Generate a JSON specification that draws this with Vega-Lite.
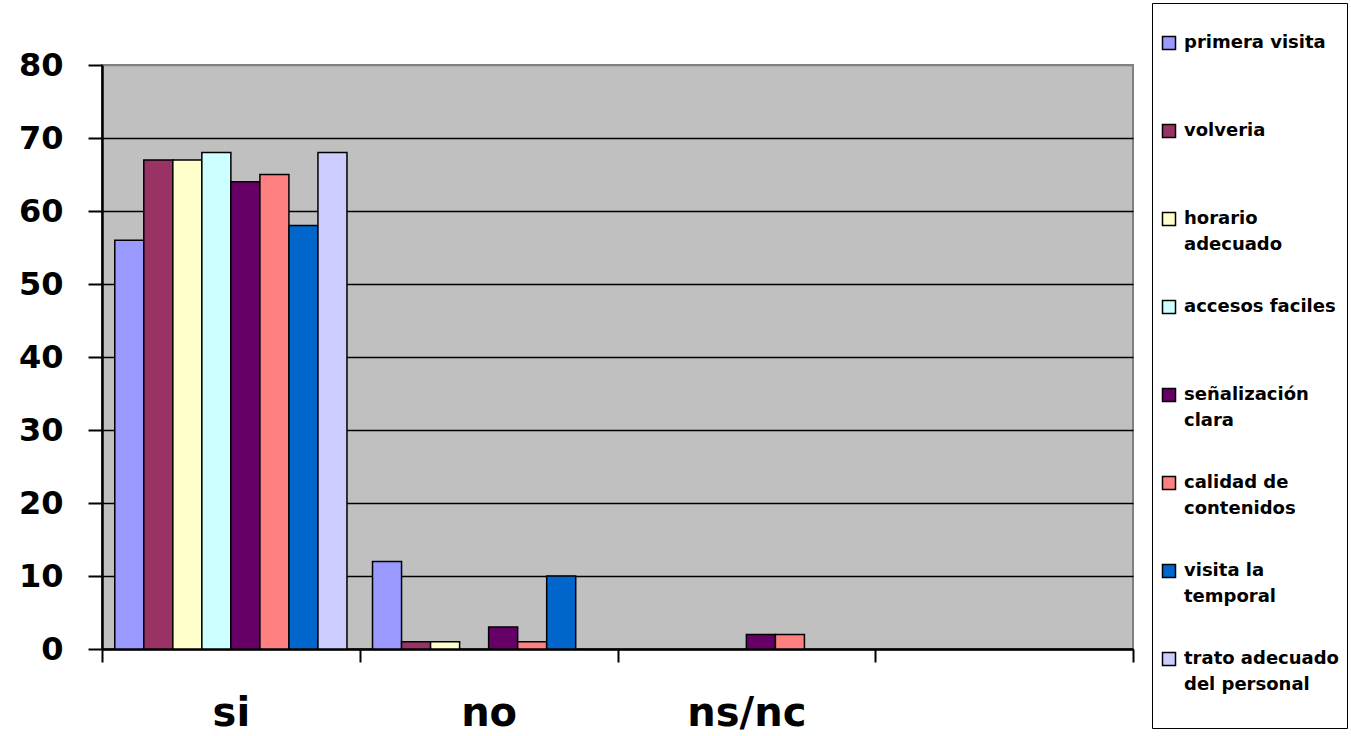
{
  "$schema": "https://vega.github.io/schema/vega-lite/v6.json",
  "width": 1031,
  "height": 584,
  "autosize": {"type": "none"},
  "padding": {"left": 102, "top": 65, "right": 218, "bottom": 87},
  "background": "white",
  "config": {
    "view": {"fill": "#C0C0C0", "stroke": "#808080", "strokeWidth": 2},
    "font": "DejaVu Sans",
    "style": {"guide-label": {"lineHeight": 26}}
  },
  "data": {
    "values": [
      {"cat": "si", "serie": "primera visita", "valor": 56},
      {"cat": "si", "serie": "volveria", "valor": 67},
      {"cat": "si", "serie": "horario adecuado", "valor": 67},
      {"cat": "si", "serie": "accesos faciles", "valor": 68},
      {"cat": "si", "serie": "señalización clara", "valor": 64},
      {"cat": "si", "serie": "calidad de contenidos", "valor": 65},
      {"cat": "si", "serie": "visita la temporal", "valor": 58},
      {"cat": "si", "serie": "trato adecuado del personal", "valor": 68},
      {"cat": "no", "serie": "primera visita", "valor": 12},
      {"cat": "no", "serie": "volveria", "valor": 1},
      {"cat": "no", "serie": "horario adecuado", "valor": 1},
      {"cat": "no", "serie": "accesos faciles", "valor": 0},
      {"cat": "no", "serie": "señalización clara", "valor": 3},
      {"cat": "no", "serie": "calidad de contenidos", "valor": 1},
      {"cat": "no", "serie": "visita la temporal", "valor": 10},
      {"cat": "no", "serie": "trato adecuado del personal", "valor": 0},
      {"cat": "ns/nc", "serie": "primera visita", "valor": 0},
      {"cat": "ns/nc", "serie": "volveria", "valor": 0},
      {"cat": "ns/nc", "serie": "horario adecuado", "valor": 0},
      {"cat": "ns/nc", "serie": "accesos faciles", "valor": 0},
      {"cat": "ns/nc", "serie": "señalización clara", "valor": 2},
      {"cat": "ns/nc", "serie": "calidad de contenidos", "valor": 2},
      {"cat": "ns/nc", "serie": "visita la temporal", "valor": 0},
      {"cat": "ns/nc", "serie": "trato adecuado del personal", "valor": 0}
    ]
  },
  "mark": {"type": "bar", "stroke": "black"},
  "encoding": {
    "x": {
      "field": "cat",
      "type": "nominal",
      "sort": null,
      "scale": {"domain": ["si", "no", "ns/nc", "_"], "paddingInner": 0, "paddingOuter": 0},
      "axis": {
        "title": null,
        "labelAngle": 0,
        "labelExpr": "datum.value == '_' ? '' : datum.value",
        "labelFont": "DejaVu Sans",
        "labelFontWeight": "bold",
        "labelFontSize": 40,
        "labelColor": "black",
        "labelPadding": 31,
        "tickBand": "extent",
        "tickSize": 13,
        "tickColor": "black",
        "tickWidth": 2,
        "domainColor": "black",
        "domainWidth": 2.5
      }
    },
    "xOffset": {
      "field": "serie",
      "type": "nominal",
      "sort": null,
      "scale": {
        "domain": ["primera visita", "volveria", "horario adecuado", "accesos faciles", "señalización clara", "calidad de contenidos", "visita la temporal", "trato adecuado del personal"],
        "paddingInner": 0,
        "paddingOuter": 0.44
      }
    },
    "y": {
      "field": "valor",
      "type": "quantitative",
      "scale": {"domain": [0, 80], "nice": false},
      "axis": {
        "title": null,
        "values": [0, 10, 20, 30, 40, 50, 60, 70, 80],
        "labelFont": "DejaVu Sans",
        "labelFontWeight": "bold",
        "labelFontSize": 32,
        "labelColor": "black",
        "labelPadding": 25,
        "tickSize": 14,
        "tickColor": "black",
        "tickWidth": 2,
        "domainColor": "black",
        "domainWidth": 2.5,
        "grid": true,
        "gridColor": {"condition": {"test": "datum.value == 80", "value": "#808080"}, "value": "black"},
        "gridWidth": 1.5
      }
    },
    "color": {
      "field": "serie",
      "type": "nominal",
      "sort": null,
      "scale": {
        "domain": ["primera visita", "volveria", "horario adecuado", "accesos faciles", "señalización clara", "calidad de contenidos", "visita la temporal", "trato adecuado del personal"],
        "range": ["#9999FF", "#993366", "#FFFFCC", "#CCFFFF", "#660066", "#FF8080", "#0066CC", "#CCCCFF"]
      },
      "legend": {
        "title": " ",
        "titleFontSize": 10,
        "titlePadding": 13,
        "orient": "none",
        "legendX": 1050,
        "legendY": -62,
        "direction": "vertical",
        "columns": 1,
        "gridAlign": "each",
        "padding": 8,
        "strokeColor": "black",
        "fillColor": "white",
        "symbolType": "square",
        "symbolSize": 169,
        "symbolStrokeColor": "black",
        "symbolStrokeWidth": 1.5,
        "labelFont": "DejaVu Sans",
        "labelFontWeight": "bold",
        "labelFontSize": 18,
        "labelColor": "black",
        "labelOffset": 6,
        "labelLimit": 220,
        "rowPadding": 43,
        "labelExpr": "datum.label == 'horario adecuado' ? ['horario', 'adecuado'] : datum.label == 'señalización clara' ? ['señalización', 'clara'] : datum.label == 'calidad de contenidos' ? ['calidad de', 'contenidos'] : datum.label == 'visita la temporal' ? ['visita la', 'temporal'] : datum.label == 'trato adecuado del personal' ? ['trato adecuado', 'del personal', ''] : [datum.label, '']"
      }
    },
    "strokeWidth": {"condition": {"test": "datum.valor > 0", "value": 1.5}, "value": 0}
  }
}
